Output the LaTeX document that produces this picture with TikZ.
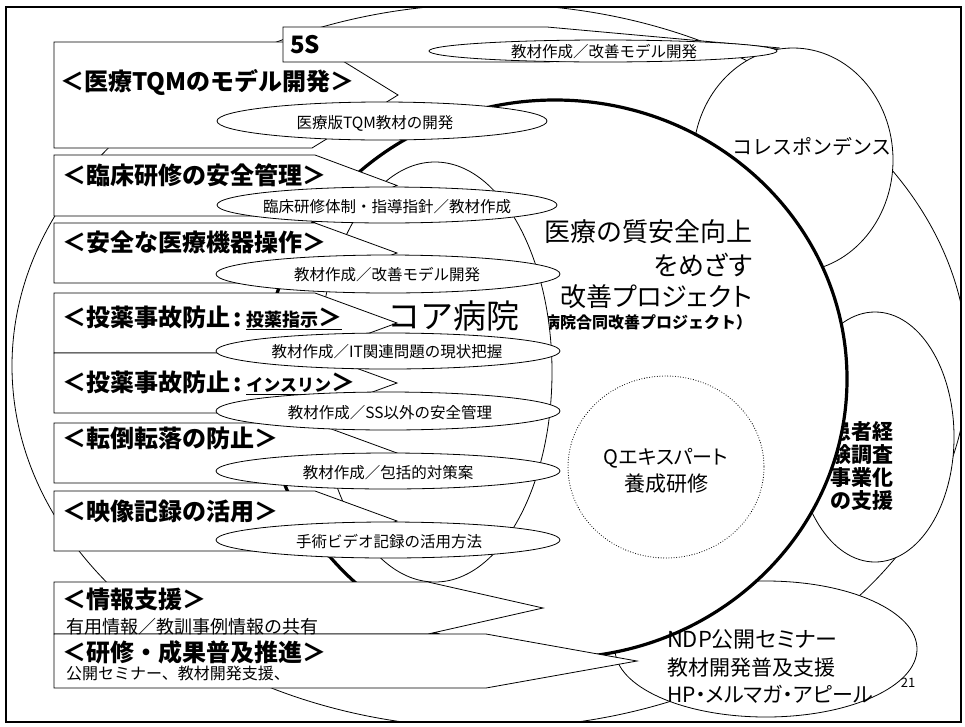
\documentclass[tikz,border=0pt]{standalone}
\usepackage{fontspec}
\setmainfont{Noto Sans CJK JP}
\newfontfamily\jpp{Noto Sans CJK JP}[RawFeature=+palt]
\newcommand\fs[1]{\fontsize{#1}{#1}\selectfont}
\usetikzlibrary{shapes.geometric}
\begin{document}
\begin{tikzpicture}[x=1pt,y=-1pt,
  cshape/.style={draw, fill=white, line width=0.8pt, line join=miter},
  lbl/.style={draw, fill=white, line width=0.8pt},
  txt/.style={inner sep=0pt, outer sep=0pt},
  ttl/.style={txt, anchor=west, font=\fs{24}\bfseries},
  sml/.style={txt, font=\fs{15.5}},
  ]
\useasboundingbox (0,0) rectangle (965,726);
\begin{scope}
\clip (6,7) rectangle (961,722);
% outer big ellipse
\draw[line width=0.8pt] (490,366) ellipse [x radius=478, y radius=362];
% Correspondence
\draw[lbl] (793,160) ellipse [x radius=100, y radius=112];
\node[txt] (corr) at (812,147) {\fs{20}コレスポンデンス};
% patient experience survey
\draw[lbl] (875,437) ellipse [x radius=79, y radius=125];
\node[txt, anchor=east] (pt1) at (893,432) {\fs{21}\bfseries 患者経};
\node[txt, anchor=east] (pt2) at (893,455) {\fs{21}\bfseries 験調査};
\node[txt, anchor=east] (pt3) at (893,478) {\fs{21}\bfseries 事業化};
\node[txt, anchor=east] (pt4) at (893,501) {\fs{21}\bfseries の支援};
% NDP ellipse
\draw[lbl] (766,649) ellipse [x radius=151, y radius=68];
% main thick ellipse
\draw[fill=white, line width=3.2pt] (555,379) ellipse [x radius=292, y radius=279];
\node[txt, anchor=east] (m1) at (752,232) {\fs{26}医療の質安全向上};
\node[txt, anchor=east] (m2) at (752,265) {\fs{26}\jpp をめざす};
\node[txt, anchor=east] (m3) at (752,297) {\fs{26}\jpp 改善プロジェクト};
\node[txt, anchor=east] (m4) at (752,322) {\fs{16}\bfseries （コア病院合同改善プロジェクト）};
% Q expert dotted circle
\draw[line width=1.1pt, line cap=round, dash pattern=on 0pt off 2.6pt] (666,467) ellipse [x radius=98, y radius=91];
\node[txt] (q1) at (666,458) {\fs{20}\jpp Qエキスパート};
\node[txt] (q2) at (666,484) {\fs{21}養成研修};
% core hospital ellipse
\draw[lbl] (435,372) ellipse [x radius=117, y radius=210];
% NDP text
\node[txt, anchor=west] (n1) at (667,640) {\fs{22}\jpp NDP公開セミナー};
\node[txt, anchor=west] (n2) at (667,668) {\fs{21}\jpp 教材開発普及支援};
\node[txt, anchor=west] (n3) at (667,694) {\fs{21}\jpp HP・メルマガ・アピール};
% callouts
\draw[cshape] (54,42) -- (312,42) -- (398,95) -- (312,148) -- (54,148) -- cycle;
\draw[cshape] (54,155) -- (315,155) -- (397,185.5) -- (315,216) -- (54,216) -- cycle;
\draw[cshape] (54,223) -- (315,223) -- (397,253) -- (315,283) -- (54,283) -- cycle;
\draw[cshape] (54,293) -- (315,293) -- (397,323) -- (315,353) -- (54,353) -- cycle;
\draw[cshape] (54,353) -- (315,353) -- (397,383) -- (315,413) -- (54,413) -- cycle;
\draw[cshape] (54,423) -- (315,423) -- (397,453) -- (315,483) -- (54,483) -- cycle;
\draw[cshape] (54,491) -- (315,491) -- (397,521) -- (315,551) -- (54,551) -- cycle;
\draw[cshape] (54,582) -- (428,582) -- (543,608) -- (428,634) -- (54,634) -- cycle;
\draw[cshape] (54,634) -- (486,634) -- (637,661) -- (486,688) -- (54,688) -- cycle;
\draw[cshape] (283,27) -- (547,27) -- (780,48) -- (547,62) -- (283,62) -- cycle;
\node[txt, anchor=west, font=\fs{24}\bfseries] (s5) at (290,45) {5S};
\node[ttl] (t1) at (60,82) {＜医療TQMのモデル開発＞};
\node[ttl] (t2) at (62,175) {＜臨床研修の安全管理＞};
\node[ttl] (t3) at (62,242) {＜安全な医療機器操作＞};
\node[ttl] (t4) at (62,318) {＜投薬事故防止\,:\,\underline{\fs{18}投薬指示\fs{24}＞}};
\node[ttl] (t5) at (62,383) {＜投薬事故防止\,:\,\underline{\fs{17}インスリン\fs{24}＞}};
\node[ttl] (t6) at (62,438) {＜転倒転落の防止＞};
\node[ttl] (t7) at (62,511) {＜映像記録の活用＞};
\node[ttl] (t8) at (62,599) {＜情報支援＞};
\node[txt, anchor=west] (u8) at (66,627) {\fs{18}有用情報／教訓事例情報の共有};
\node[ttl] (t9) at (62,652) {＜研修・成果普及推進＞};
\node[txt, anchor=west] (u9) at (66,673) {\fs{16}公開セミナー、教材開発支援、};
% small label ellipses
\draw[lbl] (603,51) ellipse [x radius=174, y radius=11];
\node[sml] (la) at (604,52) {教材作成／改善モデル開発};
\draw[lbl] (382,121) ellipse [x radius=165, y radius=19];
\node[sml] (lb) at (375,123) {医療版TQM教材の開発};
\draw[lbl] (387,205) ellipse [x radius=170, y radius=18];
\node[sml] (lc) at (387,207) {臨床研修体制・指導指針／教材作成};
\draw[lbl] (388,274) ellipse [x radius=172, y radius=19];
\node[sml] (ld) at (387,275) {教材作成／改善モデル開発};
\draw[lbl] (388,351) ellipse [x radius=172, y radius=18];
\node[sml] (le) at (387,352) {教材作成／IT関連問題の現状把握};
\draw[lbl] (388,411) ellipse [x radius=172, y radius=19];
\node[sml] (lf) at (390,413) {教材作成／SS以外の安全管理};
\draw[lbl] (388,471) ellipse [x radius=172, y radius=18];
\node[sml] (lg) at (388,473) {教材作成／包括的対策案};
\draw[lbl] (388,540) ellipse [x radius=172, y radius=18];
\node[sml] (lh) at (389,542) {手術ビデオ記録の活用方法};
% core hospital label
\node[txt] (core) at (453,316) {\fs{33}コア病院};
\node[txt] (pg) at (908,683) {\fs{13}21};
\end{scope}
\draw[line width=1.5pt] (6,7) rectangle (961,722);
\end{tikzpicture}
\end{document}
